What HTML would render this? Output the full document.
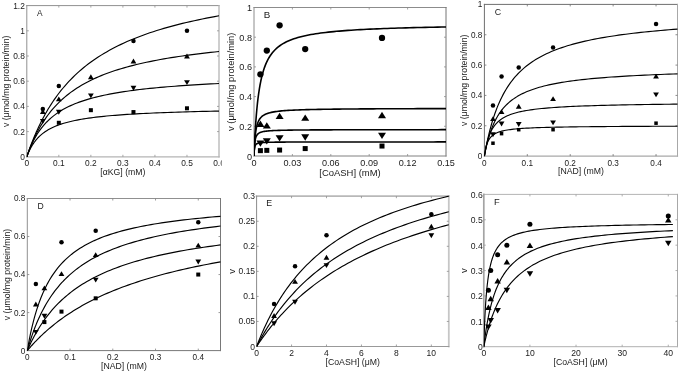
<!DOCTYPE html>
<html><head><meta charset="utf-8"><title>Kinetics</title>
<style>
html,body{margin:0;padding:0;background:#fff;}
body{width:685px;height:374px;overflow:hidden;position:relative;font-family:"Liberation Sans",sans-serif;}
</style></head><body>
<svg width="685" height="374" viewBox="0 0 685 374" style="position:absolute;left:0;top:0;will-change:transform">
<clipPath id="tcA"><rect x="0" y="0" width="221.8" height="190"/></clipPath>
<g font-family='"Liberation Sans", sans-serif' font-size="8.4" fill="#1a1a1a" clip-path="url(#tcA)">
<clipPath id="cp0"><rect x="26.8" y="4.6" width="192.79999999999998" height="152.70000000000002"/></clipPath>
<line x1="26.80" y1="5.60" x2="219.00" y2="5.60" stroke="#909090" stroke-width="1" stroke-linecap="square"/>
<line x1="219.00" y1="5.60" x2="219.00" y2="156.80" stroke="#b4b4b4" stroke-width="1.3" stroke-linecap="square"/>
<line x1="26.80" y1="156.80" x2="219.00" y2="156.80" stroke="#b4b4b4" stroke-width="1.3" stroke-linecap="square"/>
<line x1="26.80" y1="5.60" x2="26.80" y2="156.80" stroke="#909090" stroke-width="1" stroke-linecap="square"/>
<text x="26.80" y="166.30" text-anchor="middle">0</text>
<text x="58.83" y="166.30" text-anchor="middle">0.1</text>
<text x="90.87" y="166.30" text-anchor="middle">0.2</text>
<text x="122.90" y="166.30" text-anchor="middle">0.3</text>
<text x="154.93" y="166.30" text-anchor="middle">0.4</text>
<text x="186.97" y="166.30" text-anchor="middle">0.5</text>
<text x="219.00" y="166.30" text-anchor="middle">0.6</text>
<text x="24.80" y="159.81" text-anchor="end">0</text>
<text x="24.80" y="134.61" text-anchor="end">0.2</text>
<text x="24.80" y="109.41" text-anchor="end">0.4</text>
<text x="24.80" y="84.21" text-anchor="end">0.6</text>
<text x="24.80" y="59.01" text-anchor="end">0.8</text>
<text x="24.80" y="33.81" text-anchor="end">1</text>
<text x="24.80" y="8.61" text-anchor="end">1.2</text>
<path d="M58.83 156.80v-2.0M58.83 5.60v2.0M90.87 156.80v-2.0M90.87 5.60v2.0M122.90 156.80v-2.0M122.90 5.60v2.0M154.93 156.80v-2.0M154.93 5.60v2.0M186.97 156.80v-2.0M186.97 5.60v2.0M26.80 131.60h2.0M219.00 131.60h-2.0M26.80 106.40h2.0M219.00 106.40h-2.0M26.80 81.20h2.0M219.00 81.20h-2.0M26.80 56.00h2.0M219.00 56.00h-2.0M26.80 30.80h2.0M219.00 30.80h-2.0" stroke="#909090" stroke-width="0.8" fill="none"/>
<text x="122.90" y="174.80" text-anchor="middle" font-size="8.7">[αKG] (mM)</text>
<text transform="translate(9.40,81.20) rotate(-90)" text-anchor="middle" font-size="8.7">v (μmol/mg protein/min)</text>
<text x="37.10" y="16.00" font-size="8.3">A</text>
<g clip-path="url(#cp0)" fill="none" stroke="#000" stroke-width="1.15" stroke-linejoin="round">
<polyline points="26.80,156.80 26.82,156.73 26.89,156.52 27.01,156.16 27.18,155.67 27.39,155.04 27.65,154.27 27.96,153.37 28.32,152.35 28.72,151.20 29.17,149.94 29.67,148.56 30.22,147.07 30.81,145.49 31.45,143.81 32.14,142.04 32.87,140.18 33.66,138.25 34.49,136.26 35.37,134.19 36.29,132.08 37.26,129.91 38.28,127.69 39.35,125.44 40.47,123.16 41.63,120.85 42.84,118.52 44.10,116.17 45.40,113.81 46.76,111.44 48.16,109.07 49.60,106.71 51.10,104.35 52.64,102.00 54.23,99.66 55.87,97.33 57.55,95.03 59.28,92.74 61.06,90.48 62.89,88.24 64.77,86.03 66.69,83.85 68.66,81.70 70.67,79.58 72.74,77.49 74.85,75.43 77.01,73.41 79.22,71.42 81.47,69.47 83.77,67.55 86.12,65.67 88.52,63.82 90.96,62.01 93.45,60.23 95.99,58.49 98.58,56.79 101.21,55.12 103.89,53.48 106.62,51.88 109.40,50.31 112.22,48.78 115.09,47.28 118.01,45.81 120.98,44.38 123.99,42.97 127.05,41.60 130.16,40.26 133.32,38.95 136.52,37.67 139.77,36.42 143.07,35.19 146.41,34.00 149.81,32.83 153.25,31.68 156.74,30.57 160.27,29.48 163.86,28.41 167.49,27.37 171.16,26.35 174.89,25.35 178.66,24.38 182.48,23.43 186.35,22.50 190.26,21.60 194.23,20.71 198.24,19.84 202.30,18.99 206.40,18.16 210.55,17.35 214.75,16.56 219.00,15.79"/>
<polyline points="26.80,156.80 26.82,156.73 26.89,156.52 27.01,156.18 27.18,155.70 27.39,155.09 27.65,154.36 27.96,153.50 28.32,152.52 28.72,151.43 29.17,150.23 29.67,148.94 30.22,147.55 30.81,146.07 31.45,144.52 32.14,142.90 32.87,141.22 33.66,139.48 34.49,137.69 35.37,135.86 36.29,133.99 37.26,132.10 38.28,130.19 39.35,128.26 40.47,126.32 41.63,124.37 42.84,122.43 44.10,120.49 45.40,118.55 46.76,116.64 48.16,114.73 49.60,112.85 51.10,110.98 52.64,109.14 54.23,107.33 55.87,105.55 57.55,103.79 59.28,102.06 61.06,100.37 62.89,98.71 64.77,97.08 66.69,95.49 68.66,93.93 70.67,92.40 72.74,90.91 74.85,89.46 77.01,88.04 79.22,86.65 81.47,85.30 83.77,83.98 86.12,82.69 88.52,81.44 90.96,80.22 93.45,79.03 95.99,77.87 98.58,76.74 101.21,75.64 103.89,74.57 106.62,73.53 109.40,72.52 112.22,71.53 115.09,70.57 118.01,69.64 120.98,68.73 123.99,67.84 127.05,66.98 130.16,66.14 133.32,65.33 136.52,64.53 139.77,63.76 143.07,63.01 146.41,62.28 149.81,61.57 153.25,60.88 156.74,60.20 160.27,59.54 163.86,58.90 167.49,58.28 171.16,57.68 174.89,57.08 178.66,56.51 182.48,55.95 186.35,55.40 190.26,54.87 194.23,54.35 198.24,53.85 202.30,53.35 206.40,52.87 210.55,52.41 214.75,51.95 219.00,51.50"/>
<polyline points="26.80,156.80 26.82,156.73 26.89,156.52 27.01,156.17 27.18,155.68 27.39,155.07 27.65,154.33 27.96,153.47 28.32,152.50 28.72,151.44 29.17,150.28 29.67,149.03 30.22,147.71 30.81,146.33 31.45,144.90 32.14,143.42 32.87,141.90 33.66,140.36 34.49,138.79 35.37,137.21 36.29,135.63 37.26,134.05 38.28,132.47 39.35,130.91 40.47,129.36 41.63,127.83 42.84,126.32 44.10,124.84 45.40,123.39 46.76,121.97 48.16,120.58 49.60,119.22 51.10,117.89 52.64,116.61 54.23,115.35 55.87,114.13 57.55,112.95 59.28,111.80 61.06,110.69 62.89,109.61 64.77,108.57 66.69,107.56 68.66,106.58 70.67,105.63 72.74,104.72 74.85,103.83 77.01,102.98 79.22,102.15 81.47,101.35 83.77,100.58 86.12,99.83 88.52,99.11 90.96,98.41 93.45,97.74 95.99,97.09 98.58,96.46 101.21,95.85 103.89,95.26 106.62,94.69 109.40,94.14 112.22,93.61 115.09,93.10 118.01,92.60 120.98,92.12 123.99,91.65 127.05,91.20 130.16,90.77 133.32,90.35 136.52,89.94 139.77,89.54 143.07,89.16 146.41,88.79 149.81,88.43 153.25,88.08 156.74,87.74 160.27,87.41 163.86,87.09 167.49,86.79 171.16,86.49 174.89,86.20 178.66,85.92 182.48,85.64 186.35,85.38 190.26,85.12 194.23,84.87 198.24,84.63 202.30,84.39 206.40,84.16 210.55,83.94 214.75,83.72 219.00,83.51"/>
<polyline points="26.80,156.80 26.82,156.74 26.89,156.54 27.01,156.22 27.18,155.78 27.39,155.23 27.65,154.57 27.96,153.81 28.32,152.96 28.72,152.04 29.17,151.05 29.67,150.00 30.22,148.92 30.81,147.79 31.45,146.65 32.14,145.48 32.87,144.31 33.66,143.14 34.49,141.98 35.37,140.83 36.29,139.69 37.26,138.57 38.28,137.48 39.35,136.42 40.47,135.38 41.63,134.37 42.84,133.40 44.10,132.46 45.40,131.55 46.76,130.67 48.16,129.82 49.60,129.01 51.10,128.23 52.64,127.47 54.23,126.75 55.87,126.06 57.55,125.39 59.28,124.76 61.06,124.15 62.89,123.56 64.77,123.00 66.69,122.46 68.66,121.95 70.67,121.45 72.74,120.98 74.85,120.52 77.01,120.09 79.22,119.67 81.47,119.27 83.77,118.89 86.12,118.52 88.52,118.17 90.96,117.83 93.45,117.50 95.99,117.19 98.58,116.89 101.21,116.60 103.89,116.32 106.62,116.05 109.40,115.80 112.22,115.55 115.09,115.31 118.01,115.08 120.98,114.86 123.99,114.65 127.05,114.44 130.16,114.25 133.32,114.06 136.52,113.87 139.77,113.69 143.07,113.52 146.41,113.36 149.81,113.20 153.25,113.04 156.74,112.90 160.27,112.75 163.86,112.61 167.49,112.48 171.16,112.35 174.89,112.22 178.66,112.10 182.48,111.98 186.35,111.87 190.26,111.76 194.23,111.65 198.24,111.54 202.30,111.44 206.40,111.34 210.55,111.25 214.75,111.16 219.00,111.07"/>
</g>
<g fill="#000" stroke="none">
<circle cx="42.82" cy="109.05" r="2.25"/>
<circle cx="58.83" cy="85.99" r="2.25"/>
<circle cx="133.47" cy="41.01" r="2.25"/>
<circle cx="186.97" cy="30.80" r="2.25"/>
<path d="M42.82 108.99L45.72 113.89L39.92 113.89Z"/>
<path d="M58.83 96.39L61.73 101.29L55.93 101.29Z"/>
<path d="M90.87 74.34L93.77 79.24L87.97 79.24Z"/>
<path d="M133.47 58.59L136.37 63.49L130.57 63.49Z"/>
<path d="M186.97 53.55L189.87 58.45L184.07 58.45Z"/>
<path d="M42.82 123.89L45.72 118.99L39.92 118.99Z"/>
<path d="M58.83 114.69L61.73 109.79L55.93 109.79Z"/>
<path d="M90.87 98.31L93.77 93.41L87.97 93.41Z"/>
<path d="M133.47 90.75L136.37 85.85L130.57 85.85Z"/>
<path d="M186.97 85.08L189.87 80.18L184.07 80.18Z"/>
<rect x="56.83" y="120.78" width="4.00" height="4.00"/>
<rect x="88.87" y="108.18" width="4.00" height="4.00"/>
<rect x="131.47" y="110.07" width="4.00" height="4.00"/>
<rect x="184.97" y="106.29" width="4.00" height="4.00"/>
</g>
</g>
<g font-family='"Liberation Sans", sans-serif' font-size="9.1" fill="#1a1a1a">
<clipPath id="cp1"><rect x="254.0" y="6.5" width="192.6" height="150.0"/></clipPath>
<line x1="254.00" y1="7.50" x2="446.00" y2="7.50" stroke="#8c8c8c" stroke-width="1" stroke-linecap="square"/>
<line x1="446.00" y1="7.50" x2="446.00" y2="156.00" stroke="#747474" stroke-width="1" stroke-linecap="square"/>
<line x1="254.00" y1="156.00" x2="446.00" y2="156.00" stroke="#808080" stroke-width="1" stroke-linecap="square"/>
<line x1="254.00" y1="7.50" x2="254.00" y2="156.00" stroke="#8c8c8c" stroke-width="1" stroke-linecap="square"/>
<text x="254.00" y="165.80" text-anchor="middle">0</text>
<text x="292.40" y="165.80" text-anchor="middle">0.03</text>
<text x="330.80" y="165.80" text-anchor="middle">0.06</text>
<text x="369.20" y="165.80" text-anchor="middle">0.09</text>
<text x="407.60" y="165.80" text-anchor="middle">0.12</text>
<text x="446.00" y="165.80" text-anchor="middle">0.15</text>
<text x="252.00" y="159.56" text-anchor="end">0</text>
<text x="252.00" y="129.86" text-anchor="end">0.2</text>
<text x="252.00" y="100.16" text-anchor="end">0.4</text>
<text x="252.00" y="70.46" text-anchor="end">0.6</text>
<text x="252.00" y="40.76" text-anchor="end">0.8</text>
<text x="252.00" y="11.06" text-anchor="end">1</text>
<path d="M292.40 156.00v-2.0M292.40 7.50v2.0M330.80 156.00v-2.0M330.80 7.50v2.0M369.20 156.00v-2.0M369.20 7.50v2.0M407.60 156.00v-2.0M407.60 7.50v2.0M254.00 126.30h2.0M446.00 126.30h-2.0M254.00 96.60h2.0M446.00 96.60h-2.0M254.00 66.90h2.0M446.00 66.90h-2.0M254.00 37.20h2.0M446.00 37.20h-2.0" stroke="#8c8c8c" stroke-width="0.8" fill="none"/>
<text x="350.00" y="176.00" text-anchor="middle" font-size="9.45">[CoASH] (mM)</text>
<text transform="translate(234.20,81.75) rotate(-90)" text-anchor="middle" font-size="9.35">v (μmol/mg protein/min)</text>
<text x="263.70" y="17.60" font-size="9.8">B</text>
<g clip-path="url(#cp1)" fill="none" stroke="#000" stroke-width="1.6" stroke-linejoin="round">
<polyline points="254.00,156.00 254.02,155.40 254.09,153.64 254.21,150.80 254.38,147.02 254.59,142.49 254.85,137.38 255.16,131.88 255.52,126.16 255.92,120.36 256.37,114.61 256.87,109.00 257.41,103.60 258.01,98.45 258.65,93.59 259.33,89.02 260.07,84.75 260.85,80.78 261.68,77.09 262.56,73.68 263.48,70.52 264.45,67.60 265.47,64.90 266.54,62.41 267.65,60.11 268.81,57.99 270.02,56.02 271.28,54.20 272.58,52.52 273.93,50.95 275.33,49.50 276.78,48.16 278.27,46.91 279.81,45.74 281.40,44.66 283.04,43.64 284.72,42.70 286.45,41.81 288.23,40.98 290.05,40.21 291.93,39.48 293.85,38.80 295.81,38.15 297.83,37.55 299.89,36.98 302.00,36.44 304.16,35.94 306.36,35.46 308.61,35.00 310.91,34.58 313.26,34.17 315.65,33.79 318.09,33.42 320.58,33.08 323.12,32.75 325.70,32.43 328.33,32.14 331.01,31.85 333.74,31.58 336.51,31.32 339.33,31.08 342.20,30.84 345.12,30.62 348.08,30.41 351.09,30.20 354.15,30.00 357.25,29.82 360.41,29.64 363.61,29.46 366.85,29.30 370.15,29.14 373.49,28.99 376.88,28.84 380.32,28.70 383.80,28.56 387.33,28.43 390.91,28.30 394.54,28.18 398.21,28.07 401.93,27.95 405.70,27.85 409.52,27.74 413.38,27.64 417.29,27.54 421.25,27.45 425.26,27.36 429.31,27.27 433.41,27.18 437.56,27.10 441.76,27.02 446.00,26.94"/>
<polyline points="254.00,156.00 254.02,155.33 254.09,153.42 254.21,150.57 254.38,147.12 254.59,143.44 254.85,139.79 255.16,136.34 255.52,133.20 255.92,130.38 256.37,127.91 256.87,125.74 257.41,123.85 258.01,122.22 258.65,120.79 259.33,119.55 260.07,118.47 260.85,117.53 261.68,116.70 262.56,115.97 263.48,115.32 264.45,114.75 265.47,114.24 266.54,113.79 267.65,113.38 268.81,113.01 270.02,112.68 271.28,112.38 272.58,112.11 273.93,111.87 275.33,111.64 276.78,111.44 278.27,111.25 279.81,111.08 281.40,110.92 283.04,110.77 284.72,110.64 286.45,110.52 288.23,110.40 290.05,110.29 291.93,110.19 293.85,110.10 295.81,110.01 297.83,109.93 299.89,109.86 302.00,109.79 304.16,109.72 306.36,109.66 308.61,109.60 310.91,109.54 313.26,109.49 315.65,109.44 318.09,109.39 320.58,109.35 323.12,109.31 325.70,109.27 328.33,109.23 331.01,109.19 333.74,109.16 336.51,109.13 339.33,109.10 342.20,109.07 345.12,109.04 348.08,109.01 351.09,108.99 354.15,108.96 357.25,108.94 360.41,108.92 363.61,108.90 366.85,108.88 370.15,108.86 373.49,108.84 376.88,108.82 380.32,108.80 383.80,108.79 387.33,108.77 390.91,108.76 394.54,108.74 398.21,108.73 401.93,108.71 405.70,108.70 409.52,108.69 413.38,108.68 417.29,108.67 421.25,108.65 425.26,108.64 429.31,108.63 433.41,108.62 437.56,108.61 441.76,108.60 446.00,108.59"/>
<polyline points="254.00,156.00 254.02,155.21 254.09,153.10 254.21,150.25 254.38,147.26 254.59,144.49 254.85,142.09 255.16,140.09 255.52,138.45 255.92,137.12 256.37,136.04 256.87,135.15 257.41,134.42 258.01,133.82 258.65,133.32 259.33,132.89 260.07,132.54 260.85,132.23 261.68,131.97 262.56,131.74 263.48,131.55 264.45,131.38 265.47,131.23 266.54,131.09 267.65,130.97 268.81,130.87 270.02,130.78 271.28,130.69 272.58,130.62 273.93,130.55 275.33,130.49 276.78,130.43 278.27,130.38 279.81,130.33 281.40,130.29 283.04,130.25 284.72,130.21 286.45,130.18 288.23,130.15 290.05,130.12 291.93,130.09 293.85,130.07 295.81,130.04 297.83,130.02 299.89,130.00 302.00,129.98 304.16,129.97 306.36,129.95 308.61,129.93 310.91,129.92 313.26,129.91 315.65,129.89 318.09,129.88 320.58,129.87 323.12,129.86 325.70,129.85 328.33,129.84 331.01,129.83 333.74,129.82 336.51,129.81 339.33,129.80 342.20,129.80 345.12,129.79 348.08,129.78 351.09,129.77 354.15,129.77 357.25,129.76 360.41,129.76 363.61,129.75 366.85,129.75 370.15,129.74 373.49,129.74 376.88,129.73 380.32,129.73 383.80,129.72 387.33,129.72 390.91,129.71 394.54,129.71 398.21,129.71 401.93,129.70 405.70,129.70 409.52,129.70 413.38,129.69 417.29,129.69 421.25,129.69 425.26,129.69 429.31,129.68 433.41,129.68 437.56,129.68 441.76,129.67 446.00,129.67"/>
<polyline points="254.00,156.00 254.02,155.25 254.09,153.41 254.21,151.27 254.38,149.33 254.59,147.76 254.85,146.56 255.16,145.65 255.52,144.97 255.92,144.44 256.37,144.03 256.87,143.70 257.41,143.45 258.01,143.24 258.65,143.07 259.33,142.93 260.07,142.81 260.85,142.71 261.68,142.63 262.56,142.56 263.48,142.49 264.45,142.44 265.47,142.39 266.54,142.35 267.65,142.32 268.81,142.28 270.02,142.25 271.28,142.23 272.58,142.21 273.93,142.19 275.33,142.17 276.78,142.15 278.27,142.13 279.81,142.12 281.40,142.11 283.04,142.09 284.72,142.08 286.45,142.07 288.23,142.06 290.05,142.06 291.93,142.05 293.85,142.04 295.81,142.03 297.83,142.03 299.89,142.02 302.00,142.02 304.16,142.01 306.36,142.01 308.61,142.00 310.91,142.00 313.26,141.99 315.65,141.99 318.09,141.98 320.58,141.98 323.12,141.98 325.70,141.98 328.33,141.97 331.01,141.97 333.74,141.97 336.51,141.96 339.33,141.96 342.20,141.96 345.12,141.96 348.08,141.96 351.09,141.95 354.15,141.95 357.25,141.95 360.41,141.95 363.61,141.95 366.85,141.95 370.15,141.94 373.49,141.94 376.88,141.94 380.32,141.94 383.80,141.94 387.33,141.94 390.91,141.94 394.54,141.93 398.21,141.93 401.93,141.93 405.70,141.93 409.52,141.93 413.38,141.93 417.29,141.93 421.25,141.93 425.26,141.93 429.31,141.93 433.41,141.93 437.56,141.92 441.76,141.92 446.00,141.92"/>
</g>
<g fill="#000" stroke="none">
<circle cx="260.40" cy="74.32" r="3.15"/>
<circle cx="266.80" cy="50.57" r="3.15"/>
<circle cx="279.60" cy="25.32" r="3.15"/>
<circle cx="305.20" cy="49.08" r="3.15"/>
<circle cx="382.00" cy="37.94" r="3.15"/>
<path d="M260.40 120.50L264.40 126.90L256.40 126.90Z"/>
<path d="M266.80 122.21L270.80 128.61L262.80 128.61Z"/>
<path d="M279.60 112.70L283.60 119.11L275.60 119.11Z"/>
<path d="M305.20 114.41L309.20 120.81L301.20 120.81Z"/>
<path d="M382.00 111.81L386.00 118.21L378.00 118.21Z"/>
<path d="M260.40 146.78L264.40 140.38L256.40 140.38Z"/>
<path d="M266.80 144.56L270.80 138.16L262.80 138.16Z"/>
<path d="M279.60 141.59L283.60 135.19L275.60 135.19Z"/>
<path d="M305.20 140.69L309.20 134.30L301.20 134.30Z"/>
<path d="M382.00 139.06L386.00 132.66L378.00 132.66Z"/>
<rect x="257.90" y="148.15" width="5.00" height="5.00"/>
<rect x="264.30" y="147.86" width="5.00" height="5.00"/>
<rect x="277.10" y="147.56" width="5.00" height="5.00"/>
<rect x="302.70" y="146.07" width="5.00" height="5.00"/>
<rect x="379.50" y="143.55" width="5.00" height="5.00"/>
</g>
</g>
<g font-family='"Liberation Sans", sans-serif' font-size="8.2" fill="#1a1a1a">
<clipPath id="cp2"><rect x="484.4" y="3.4000000000000004" width="193.70000000000002" height="153.2"/></clipPath>
<line x1="484.40" y1="4.40" x2="677.50" y2="4.40" stroke="#6e6e6e" stroke-width="1" stroke-linecap="square"/>
<line x1="677.50" y1="4.40" x2="677.50" y2="156.10" stroke="#a8a8a8" stroke-width="1" stroke-linecap="square"/>
<line x1="484.40" y1="156.10" x2="677.50" y2="156.10" stroke="#a8a8a8" stroke-width="1.2" stroke-linecap="square"/>
<line x1="484.40" y1="4.40" x2="484.40" y2="156.10" stroke="#6e6e6e" stroke-width="1" stroke-linecap="square"/>
<text x="484.40" y="165.60" text-anchor="middle">0</text>
<text x="527.31" y="165.60" text-anchor="middle">0.1</text>
<text x="570.22" y="165.60" text-anchor="middle">0.2</text>
<text x="613.13" y="165.60" text-anchor="middle">0.3</text>
<text x="656.04" y="165.60" text-anchor="middle">0.4</text>
<text x="482.40" y="159.04" text-anchor="end">0</text>
<text x="482.40" y="128.70" text-anchor="end">0.2</text>
<text x="482.40" y="98.36" text-anchor="end">0.4</text>
<text x="482.40" y="68.02" text-anchor="end">0.6</text>
<text x="482.40" y="37.68" text-anchor="end">0.8</text>
<text x="482.40" y="7.34" text-anchor="end">1</text>
<path d="M527.31 156.10v-2.0M527.31 4.40v2.0M570.22 156.10v-2.0M570.22 4.40v2.0M613.13 156.10v-2.0M613.13 4.40v2.0M656.04 156.10v-2.0M656.04 4.40v2.0M484.40 125.76h2.0M677.50 125.76h-2.0M484.40 95.42h2.0M677.50 95.42h-2.0M484.40 65.08h2.0M677.50 65.08h-2.0M484.40 34.74h2.0M677.50 34.74h-2.0" stroke="#6e6e6e" stroke-width="0.8" fill="none"/>
<text x="580.95" y="174.10" text-anchor="middle" font-size="8.7">[NAD] (mM)</text>
<text transform="translate(467.00,80.25) rotate(-90)" text-anchor="middle" font-size="8.7">v (μmol/mg protein/min)</text>
<text x="494.70" y="14.80" font-size="8.8">C</text>
<g clip-path="url(#cp2)" fill="none" stroke="#000" stroke-width="1.15" stroke-linejoin="round">
<polyline points="484.40,156.10 484.42,155.96 484.50,155.55 484.61,154.87 484.78,153.94 485.00,152.75 485.26,151.32 485.57,149.67 485.93,147.82 486.33,145.78 486.78,143.57 487.28,141.21 487.83,138.72 488.43,136.13 489.07,133.44 489.76,130.68 490.50,127.87 491.29,125.02 492.12,122.15 493.01,119.27 493.94,116.39 494.91,113.53 495.94,110.69 497.01,107.89 498.13,105.13 499.30,102.42 500.52,99.76 501.78,97.16 503.09,94.62 504.45,92.14 505.86,89.73 507.31,87.39 508.81,85.11 510.36,82.91 511.96,80.77 513.60,78.70 515.30,76.70 517.04,74.77 518.82,72.90 520.66,71.09 522.54,69.35 524.47,67.67 526.45,66.04 528.48,64.48 530.55,62.97 532.67,61.51 534.84,60.11 537.06,58.75 539.33,57.45 541.64,56.19 544.00,54.97 546.41,53.80 548.86,52.68 551.37,51.59 553.92,50.54 556.51,49.53 559.16,48.55 561.85,47.61 564.60,46.70 567.39,45.82 570.22,44.97 573.11,44.15 576.04,43.36 579.02,42.60 582.05,41.86 585.12,41.15 588.24,40.46 591.42,39.79 594.63,39.15 597.90,38.53 601.21,37.92 604.57,37.34 607.98,36.77 611.44,36.23 614.95,35.70 618.50,35.19 622.10,34.69 625.74,34.21 629.44,33.74 633.18,33.29 636.97,32.85 640.81,32.42 644.70,32.01 648.63,31.61 652.61,31.22 656.64,30.84 660.72,30.48 664.84,30.12 669.01,29.77 673.23,29.44 677.50,29.11"/>
<polyline points="484.40,156.10 484.42,155.97 484.50,155.58 484.61,154.94 484.78,154.06 485.00,152.95 485.26,151.64 485.57,150.14 485.93,148.47 486.33,146.66 486.78,144.72 487.28,142.69 487.83,140.59 488.43,138.43 489.07,136.23 489.76,134.02 490.50,131.81 491.29,129.61 492.12,127.43 493.01,125.29 493.94,123.19 494.91,121.13 495.94,119.14 497.01,117.20 498.13,115.32 499.30,113.51 500.52,111.76 501.78,110.08 503.09,108.46 504.45,106.91 505.86,105.42 507.31,103.99 508.81,102.62 510.36,101.31 511.96,100.06 513.60,98.86 515.30,97.71 517.04,96.62 518.82,95.57 520.66,94.57 522.54,93.61 524.47,92.70 526.45,91.82 528.48,90.99 530.55,90.19 532.67,89.42 534.84,88.69 537.06,87.99 539.33,87.32 541.64,86.68 544.00,86.06 546.41,85.47 548.86,84.91 551.37,84.37 553.92,83.85 556.51,83.35 559.16,82.87 561.85,82.41 564.60,81.97 567.39,81.55 570.22,81.14 573.11,80.75 576.04,80.37 579.02,80.01 582.05,79.66 585.12,79.33 588.24,79.01 591.42,78.69 594.63,78.39 597.90,78.11 601.21,77.83 604.57,77.56 607.98,77.30 611.44,77.05 614.95,76.81 618.50,76.57 622.10,76.35 625.74,76.13 629.44,75.92 633.18,75.71 636.97,75.51 640.81,75.32 644.70,75.14 648.63,74.96 652.61,74.78 656.64,74.61 660.72,74.45 664.84,74.29 669.01,74.14 673.23,73.99 677.50,73.85"/>
<polyline points="484.40,156.10 484.42,155.94 484.50,155.45 484.61,154.66 484.78,153.59 485.00,152.29 485.26,150.77 485.57,149.10 485.93,147.30 486.33,145.43 486.78,143.51 487.28,141.57 487.83,139.65 488.43,137.76 489.07,135.93 489.76,134.15 490.50,132.45 491.29,130.83 492.12,129.28 493.01,127.82 493.94,126.44 494.91,125.14 495.94,123.92 497.01,122.77 498.13,121.69 499.30,120.68 500.52,119.74 501.78,118.85 503.09,118.02 504.45,117.24 505.86,116.51 507.31,115.82 508.81,115.18 510.36,114.58 511.96,114.01 513.60,113.48 515.30,112.98 517.04,112.51 518.82,112.06 520.66,111.65 522.54,111.25 524.47,110.88 526.45,110.53 528.48,110.20 530.55,109.88 532.67,109.59 534.84,109.30 537.06,109.04 539.33,108.78 541.64,108.54 544.00,108.32 546.41,108.10 548.86,107.89 551.37,107.70 553.92,107.51 556.51,107.33 559.16,107.16 561.85,107.00 564.60,106.84 567.39,106.69 570.22,106.55 573.11,106.42 576.04,106.29 579.02,106.16 582.05,106.04 585.12,105.93 588.24,105.82 591.42,105.72 594.63,105.62 597.90,105.52 601.21,105.43 604.57,105.34 607.98,105.25 611.44,105.17 614.95,105.09 618.50,105.01 622.10,104.94 625.74,104.87 629.44,104.80 633.18,104.73 636.97,104.67 640.81,104.60 644.70,104.54 648.63,104.49 652.61,104.43 656.64,104.38 660.72,104.32 664.84,104.27 669.01,104.23 673.23,104.18 677.50,104.13"/>
<polyline points="484.40,156.10 484.42,155.91 484.50,155.37 484.61,154.50 484.78,153.36 485.00,152.02 485.26,150.56 485.57,149.02 485.93,147.47 486.33,145.94 486.78,144.46 487.28,143.06 487.83,141.75 488.43,140.53 489.07,139.41 489.76,138.37 490.50,137.43 491.29,136.56 492.12,135.77 493.01,135.05 493.94,134.40 494.91,133.80 495.94,133.25 497.01,132.76 498.13,132.30 499.30,131.88 500.52,131.50 501.78,131.15 503.09,130.83 504.45,130.53 505.86,130.26 507.31,130.01 508.81,129.77 510.36,129.56 511.96,129.36 513.60,129.17 515.30,129.00 517.04,128.83 518.82,128.68 520.66,128.54 522.54,128.41 524.47,128.29 526.45,128.17 528.48,128.06 530.55,127.96 532.67,127.87 534.84,127.78 537.06,127.69 539.33,127.61 541.64,127.54 544.00,127.46 546.41,127.40 548.86,127.33 551.37,127.27 553.92,127.21 556.51,127.16 559.16,127.11 561.85,127.06 564.60,127.01 567.39,126.96 570.22,126.92 573.11,126.88 576.04,126.84 579.02,126.80 582.05,126.77 585.12,126.73 588.24,126.70 591.42,126.67 594.63,126.64 597.90,126.61 601.21,126.58 604.57,126.56 607.98,126.53 611.44,126.51 614.95,126.48 618.50,126.46 622.10,126.44 625.74,126.42 629.44,126.40 633.18,126.38 636.97,126.36 640.81,126.34 644.70,126.33 648.63,126.31 652.61,126.29 656.64,126.28 660.72,126.26 664.84,126.25 669.01,126.23 673.23,126.22 677.50,126.21"/>
</g>
<g fill="#000" stroke="none">
<circle cx="492.98" cy="105.58" r="2.25"/>
<circle cx="501.56" cy="76.61" r="2.25"/>
<circle cx="518.73" cy="67.58" r="2.25"/>
<circle cx="553.06" cy="47.56" r="2.25"/>
<circle cx="656.04" cy="24.12" r="2.25"/>
<path d="M492.98 116.18L495.88 121.08L490.08 121.08Z"/>
<path d="M501.56 109.20L504.46 114.10L498.66 114.10Z"/>
<path d="M518.73 103.74L521.63 108.64L515.83 108.64Z"/>
<path d="M553.06 96.16L555.96 101.06L550.16 101.06Z"/>
<path d="M656.04 73.70L658.94 78.60L653.14 78.60Z"/>
<path d="M492.98 137.20L495.88 132.30L490.08 132.30Z"/>
<path d="M501.56 126.43L504.46 121.53L498.66 121.53Z"/>
<path d="M518.73 126.89L521.63 121.99L515.83 121.99Z"/>
<path d="M553.06 125.37L555.96 120.47L550.16 120.47Z"/>
<path d="M656.04 97.37L658.94 92.47L653.14 92.47Z"/>
<rect x="491.23" y="141.46" width="3.50" height="3.50"/>
<rect x="499.81" y="131.90" width="3.50" height="3.50"/>
<rect x="516.98" y="127.95" width="3.50" height="3.50"/>
<rect x="551.31" y="127.95" width="3.50" height="3.50"/>
<rect x="654.29" y="121.43" width="3.50" height="3.50"/>
</g>
</g>
<g font-family='"Liberation Sans", sans-serif' font-size="8.2" fill="#1a1a1a">
<clipPath id="cp3"><rect x="27.3" y="197.5" width="193.79999999999998" height="153.60000000000002"/></clipPath>
<line x1="27.30" y1="198.50" x2="220.50" y2="198.50" stroke="#909090" stroke-width="1" stroke-linecap="square"/>
<line x1="220.50" y1="198.50" x2="220.50" y2="350.60" stroke="#787878" stroke-width="1" stroke-linecap="square"/>
<line x1="27.30" y1="350.60" x2="220.50" y2="350.60" stroke="#787878" stroke-width="1" stroke-linecap="square"/>
<line x1="27.30" y1="198.50" x2="27.30" y2="350.60" stroke="#909090" stroke-width="1" stroke-linecap="square"/>
<text x="27.30" y="360.10" text-anchor="middle">0</text>
<text x="70.04" y="360.10" text-anchor="middle">0.1</text>
<text x="112.79" y="360.10" text-anchor="middle">0.2</text>
<text x="155.53" y="360.10" text-anchor="middle">0.3</text>
<text x="198.27" y="360.10" text-anchor="middle">0.4</text>
<text x="25.30" y="353.54" text-anchor="end">0</text>
<text x="25.30" y="315.51" text-anchor="end">0.2</text>
<text x="25.30" y="277.49" text-anchor="end">0.4</text>
<text x="25.30" y="239.46" text-anchor="end">0.6</text>
<text x="25.30" y="201.44" text-anchor="end">0.8</text>
<path d="M70.04 350.60v-2.0M70.04 198.50v2.0M112.79 350.60v-2.0M112.79 198.50v2.0M155.53 350.60v-2.0M155.53 198.50v2.0M198.27 350.60v-2.0M198.27 198.50v2.0M27.30 312.58h2.0M220.50 312.58h-2.0M27.30 274.55h2.0M220.50 274.55h-2.0M27.30 236.53h2.0M220.50 236.53h-2.0" stroke="#808080" stroke-width="0.8" fill="none"/>
<text x="123.90" y="368.60" text-anchor="middle" font-size="8.7">[NAD] (mM)</text>
<text transform="translate(9.90,274.55) rotate(-90)" text-anchor="middle" font-size="8.7">v (μmol/mg protein/min)</text>
<text x="37.60" y="208.90" font-size="8.6">D</text>
<g clip-path="url(#cp3)" fill="none" stroke="#000" stroke-width="1.15" stroke-linejoin="round">
<polyline points="27.30,350.60 27.32,350.46 27.40,350.04 27.51,349.34 27.68,348.37 27.90,347.14 28.16,345.67 28.47,343.97 28.83,342.06 29.23,339.94 29.69,337.66 30.19,335.21 30.73,332.64 31.33,329.94 31.97,327.15 32.67,324.28 33.41,321.35 34.19,318.38 35.03,315.38 35.91,312.37 36.84,309.36 37.82,306.36 38.84,303.39 39.92,300.44 41.04,297.54 42.21,294.69 43.42,291.89 44.69,289.14 46.00,286.46 47.36,283.85 48.77,281.30 50.22,278.82 51.72,276.41 53.27,274.07 54.87,271.80 56.52,269.60 58.21,267.47 59.95,265.41 61.74,263.42 63.58,261.49 65.46,259.63 67.39,257.84 69.37,256.10 71.40,254.43 73.48,252.81 75.60,251.25 77.77,249.75 79.99,248.30 82.25,246.90 84.57,245.55 86.93,244.24 89.34,242.99 91.80,241.77 94.30,240.60 96.85,239.48 99.45,238.39 102.10,237.33 104.79,236.32 107.54,235.34 110.33,234.39 113.17,233.48 116.05,232.60 118.99,231.75 121.97,230.92 125.00,230.13 128.07,229.36 131.20,228.61 134.37,227.89 137.59,227.20 140.86,226.52 144.17,225.87 147.54,225.24 150.95,224.63 154.41,224.04 157.91,223.46 161.47,222.91 165.07,222.37 168.72,221.85 172.41,221.34 176.16,220.85 179.95,220.38 183.79,219.92 187.68,219.47 191.62,219.03 195.60,218.61 199.63,218.20 203.71,217.81 207.83,217.42 212.01,217.04 216.23,216.68 220.50,216.32"/>
<polyline points="27.30,350.60 27.32,350.52 27.40,350.26 27.51,349.84 27.68,349.25 27.90,348.51 28.16,347.60 28.47,346.55 28.83,345.36 29.23,344.02 29.69,342.56 30.19,340.98 30.73,339.29 31.33,337.49 31.97,335.60 32.67,333.63 33.41,331.59 34.19,329.48 35.03,327.31 35.91,325.10 36.84,322.84 37.82,320.56 38.84,318.26 39.92,315.93 41.04,313.60 42.21,311.27 43.42,308.94 44.69,306.62 46.00,304.31 47.36,302.02 48.77,299.75 50.22,297.51 51.72,295.29 53.27,293.11 54.87,290.96 56.52,288.84 58.21,286.77 59.95,284.73 61.74,282.73 63.58,280.77 65.46,278.86 67.39,276.98 69.37,275.15 71.40,273.36 73.48,271.61 75.60,269.91 77.77,268.25 79.99,266.62 82.25,265.04 84.57,263.51 86.93,262.01 89.34,260.55 91.80,259.12 94.30,257.74 96.85,256.39 99.45,255.08 102.10,253.81 104.79,252.57 107.54,251.36 110.33,250.19 113.17,249.05 116.05,247.94 118.99,246.86 121.97,245.81 125.00,244.79 128.07,243.80 131.20,242.83 134.37,241.90 137.59,240.98 140.86,240.09 144.17,239.23 147.54,238.39 150.95,237.57 154.41,236.78 157.91,236.00 161.47,235.25 165.07,234.52 168.72,233.80 172.41,233.11 176.16,232.43 179.95,231.77 183.79,231.13 187.68,230.51 191.62,229.90 195.60,229.31 199.63,228.73 203.71,228.17 207.83,227.62 212.01,227.08 216.23,226.56 220.50,226.05"/>
<polyline points="27.30,350.60 27.32,350.54 27.40,350.38 27.51,350.11 27.68,349.72 27.90,349.23 28.16,348.64 28.47,347.95 28.83,347.16 29.23,346.27 29.69,345.29 30.19,344.23 30.73,343.09 31.33,341.86 31.97,340.57 32.67,339.21 33.41,337.78 34.19,336.30 35.03,334.77 35.91,333.19 36.84,331.57 37.82,329.91 38.84,328.22 39.92,326.50 41.04,324.76 42.21,323.00 43.42,321.22 44.69,319.44 46.00,317.65 47.36,315.85 48.77,314.06 50.22,312.27 51.72,310.48 53.27,308.71 54.87,306.94 56.52,305.19 58.21,303.45 59.95,301.74 61.74,300.04 63.58,298.36 65.46,296.70 67.39,295.07 69.37,293.46 71.40,291.87 73.48,290.31 75.60,288.78 77.77,287.27 79.99,285.79 82.25,284.34 84.57,282.91 86.93,281.52 89.34,280.15 91.80,278.80 94.30,277.49 96.85,276.20 99.45,274.94 102.10,273.71 104.79,272.50 107.54,271.32 110.33,270.16 113.17,269.03 116.05,267.93 118.99,266.85 121.97,265.80 125.00,264.76 128.07,263.76 131.20,262.77 134.37,261.81 137.59,260.87 140.86,259.96 144.17,259.06 147.54,258.18 150.95,257.33 154.41,256.49 157.91,255.68 161.47,254.88 165.07,254.10 168.72,253.34 172.41,252.60 176.16,251.88 179.95,251.17 183.79,250.48 187.68,249.80 191.62,249.14 195.60,248.49 199.63,247.86 203.71,247.25 207.83,246.65 212.01,246.06 216.23,245.48 220.50,244.92"/>
<polyline points="27.30,350.60 27.32,350.57 27.40,350.49 27.51,350.35 27.68,350.15 27.90,349.90 28.16,349.59 28.47,349.23 28.83,348.81 29.23,348.34 29.69,347.82 30.19,347.25 30.73,346.63 31.33,345.97 31.97,345.25 32.67,344.50 33.41,343.70 34.19,342.85 35.03,341.97 35.91,341.05 36.84,340.09 37.82,339.10 38.84,338.08 39.92,337.02 41.04,335.94 42.21,334.83 43.42,333.69 44.69,332.53 46.00,331.35 47.36,330.15 48.77,328.93 50.22,327.69 51.72,326.44 53.27,325.18 54.87,323.90 56.52,322.62 58.21,321.32 59.95,320.02 61.74,318.71 63.58,317.40 65.46,316.09 67.39,314.78 69.37,313.46 71.40,312.15 73.48,310.83 75.60,309.53 77.77,308.22 79.99,306.92 82.25,305.62 84.57,304.34 86.93,303.06 89.34,301.78 91.80,300.52 94.30,299.26 96.85,298.02 99.45,296.78 102.10,295.56 104.79,294.35 107.54,293.15 110.33,291.96 113.17,290.78 116.05,289.62 118.99,288.47 121.97,287.33 125.00,286.21 128.07,285.10 131.20,284.00 134.37,282.92 137.59,281.85 140.86,280.79 144.17,279.75 147.54,278.73 150.95,277.71 154.41,276.72 157.91,275.73 161.47,274.76 165.07,273.81 168.72,272.87 172.41,271.94 176.16,271.02 179.95,270.12 183.79,269.24 187.68,268.36 191.62,267.51 195.60,266.66 199.63,265.83 203.71,265.01 207.83,264.20 212.01,263.40 216.23,262.62 220.50,261.85"/>
</g>
<g fill="#000" stroke="none">
<circle cx="35.85" cy="284.06" r="2.25"/>
<circle cx="61.49" cy="242.23" r="2.25"/>
<circle cx="95.69" cy="230.82" r="2.25"/>
<circle cx="198.27" cy="222.27" r="2.25"/>
<path d="M35.85 301.57L38.75 306.47L32.95 306.47Z"/>
<path d="M44.40 285.41L47.30 290.31L41.50 290.31Z"/>
<path d="M61.49 271.15L64.39 276.05L58.59 276.05Z"/>
<path d="M95.69 252.14L98.59 257.04L92.79 257.04Z"/>
<path d="M198.27 242.63L201.17 247.53L195.37 247.53Z"/>
<path d="M35.85 334.84L38.75 329.94L32.95 329.94Z"/>
<path d="M44.40 318.68L47.30 313.78L41.50 313.78Z"/>
<path d="M95.69 282.55L98.59 277.65L92.79 277.65Z"/>
<path d="M198.27 264.49L201.17 259.59L195.37 259.59Z"/>
<rect x="42.40" y="320.08" width="4.00" height="4.00"/>
<rect x="59.49" y="309.62" width="4.00" height="4.00"/>
<rect x="93.69" y="296.32" width="4.00" height="4.00"/>
<rect x="196.27" y="272.55" width="4.00" height="4.00"/>
</g>
</g>
<g font-family='"Liberation Sans", sans-serif' font-size="8.5" fill="#1a1a1a">
<clipPath id="cp4"><rect x="256.6" y="195.2" width="192.79999999999998" height="151.8"/></clipPath>
<line x1="256.60" y1="196.20" x2="448.80" y2="196.20" stroke="#b8b8b8" stroke-width="1.8" stroke-linecap="square"/>
<line x1="448.80" y1="196.20" x2="448.80" y2="346.50" stroke="#c6c6c6" stroke-width="1.8" stroke-linecap="square"/>
<line x1="256.60" y1="346.50" x2="448.80" y2="346.50" stroke="#999" stroke-width="1" stroke-linecap="square"/>
<line x1="256.60" y1="196.20" x2="256.60" y2="346.50" stroke="#8c8c8c" stroke-width="1" stroke-linecap="square"/>
<text x="256.60" y="356.00" text-anchor="middle">0</text>
<text x="291.55" y="356.00" text-anchor="middle">2</text>
<text x="326.49" y="356.00" text-anchor="middle">4</text>
<text x="361.44" y="356.00" text-anchor="middle">6</text>
<text x="396.38" y="356.00" text-anchor="middle">8</text>
<text x="431.33" y="356.00" text-anchor="middle">10</text>
<text x="255.10" y="349.54" text-anchor="end">0</text>
<text x="255.10" y="324.49" text-anchor="end">0.05</text>
<text x="255.10" y="299.44" text-anchor="end">0.1</text>
<text x="255.10" y="274.39" text-anchor="end">0.15</text>
<text x="255.10" y="249.34" text-anchor="end">0.2</text>
<text x="255.10" y="224.29" text-anchor="end">0.25</text>
<text x="255.10" y="199.24" text-anchor="end">0.3</text>
<path d="M291.55 346.50v-2.0M291.55 196.20v2.0M326.49 346.50v-2.0M326.49 196.20v2.0M361.44 346.50v-2.0M361.44 196.20v2.0M396.38 346.50v-2.0M396.38 196.20v2.0M431.33 346.50v-2.0M431.33 196.20v2.0M256.60 321.45h2.0M448.80 321.45h-2.0M256.60 296.40h2.0M448.80 296.40h-2.0M256.60 271.35h2.0M448.80 271.35h-2.0M256.60 246.30h2.0M448.80 246.30h-2.0M256.60 221.25h2.0M448.80 221.25h-2.0" stroke="#8c8c8c" stroke-width="0.8" fill="none"/>
<text x="352.70" y="364.50" text-anchor="middle" font-size="8.7">[CoASH] (μM)</text>
<text transform="translate(235.20,271.35) rotate(-90)" text-anchor="middle" font-size="9.4">v</text>
<text x="266.30" y="206.00" font-size="8.8">E</text>
<g clip-path="url(#cp4)" fill="none" stroke="#000" stroke-width="1.15" stroke-linejoin="round">
<polyline points="256.60,346.50 256.62,346.44 256.69,346.25 256.81,345.94 256.98,345.51 257.19,344.96 257.45,344.28 257.76,343.49 258.12,342.59 258.52,341.58 258.97,340.46 259.47,339.23 260.02,337.90 260.61,336.48 261.25,334.96 261.94,333.36 262.67,331.68 263.46,329.91 264.29,328.08 265.17,326.17 266.09,324.21 267.06,322.18 268.08,320.10 269.15,317.98 270.27,315.80 271.43,313.59 272.64,311.35 273.90,309.08 275.20,306.78 276.56,304.45 277.96,302.12 279.40,299.76 280.90,297.40 282.44,295.03 284.03,292.66 285.67,290.29 287.35,287.93 289.08,285.57 290.86,283.21 292.69,280.87 294.57,278.54 296.49,276.23 298.46,273.94 300.47,271.66 302.54,269.41 304.65,267.18 306.81,264.97 309.02,262.79 311.27,260.63 313.57,258.50 315.92,256.40 318.32,254.32 320.76,252.28 323.25,250.26 325.79,248.28 328.38,246.32 331.01,244.40 333.69,242.51 336.42,240.64 339.20,238.81 342.02,237.01 344.89,235.24 347.81,233.51 350.78,231.80 353.79,230.12 356.85,228.48 359.96,226.86 363.12,225.28 366.32,223.72 369.57,222.19 372.87,220.69 376.21,219.23 379.61,217.78 383.05,216.37 386.54,214.98 390.07,213.63 393.66,212.29 397.29,210.99 400.96,209.71 404.69,208.45 408.46,207.22 412.28,206.02 416.15,204.83 420.06,203.67 424.03,202.54 428.04,201.43 432.10,200.33 436.20,199.27 440.35,198.22 444.55,197.19 448.80,196.18"/>
<polyline points="256.60,346.50 256.62,346.45 256.69,346.32 256.81,346.09 256.98,345.77 257.19,345.36 257.45,344.86 257.76,344.27 258.12,343.60 258.52,342.85 258.97,342.01 259.47,341.09 260.02,340.09 260.61,339.02 261.25,337.87 261.94,336.65 262.67,335.37 263.46,334.02 264.29,332.60 265.17,331.13 266.09,329.61 267.06,328.03 268.08,326.39 269.15,324.72 270.27,323.00 271.43,321.24 272.64,319.44 273.90,317.61 275.20,315.75 276.56,313.86 277.96,311.94 279.40,310.00 280.90,308.04 282.44,306.07 284.03,304.08 285.67,302.08 287.35,300.07 289.08,298.06 290.86,296.04 292.69,294.01 294.57,291.99 296.49,289.97 298.46,287.95 300.47,285.94 302.54,283.93 304.65,281.94 306.81,279.95 309.02,277.97 311.27,276.01 313.57,274.06 315.92,272.12 318.32,270.20 320.76,268.30 323.25,266.41 325.79,264.54 328.38,262.69 331.01,260.86 333.69,259.06 336.42,257.27 339.20,255.50 342.02,253.75 344.89,252.03 347.81,250.33 350.78,248.65 353.79,246.99 356.85,245.36 359.96,243.74 363.12,242.16 366.32,240.59 369.57,239.05 372.87,237.53 376.21,236.03 379.61,234.56 383.05,233.11 386.54,231.68 390.07,230.27 393.66,228.89 397.29,227.52 400.96,226.18 404.69,224.87 408.46,223.57 412.28,222.29 416.15,221.04 420.06,219.81 424.03,218.59 428.04,217.40 432.10,216.23 436.20,215.08 440.35,213.94 444.55,212.83 448.80,211.74"/>
<polyline points="256.60,346.50 256.62,346.46 256.69,346.36 256.81,346.18 256.98,345.93 257.19,345.61 257.45,345.21 257.76,344.75 258.12,344.23 258.52,343.63 258.97,342.97 259.47,342.24 260.02,341.45 260.61,340.60 261.25,339.69 261.94,338.72 262.67,337.69 263.46,336.61 264.29,335.47 265.17,334.29 266.09,333.05 267.06,331.77 268.08,330.44 269.15,329.07 270.27,327.67 271.43,326.22 272.64,324.74 273.90,323.22 275.20,321.67 276.56,320.09 277.96,318.49 279.40,316.86 280.90,315.21 282.44,313.53 284.03,311.84 285.67,310.13 287.35,308.41 289.08,306.67 290.86,304.92 292.69,303.16 294.57,301.40 296.49,299.63 298.46,297.85 300.47,296.07 302.54,294.29 304.65,292.51 306.81,290.73 309.02,288.95 311.27,287.18 313.57,285.41 315.92,283.65 318.32,281.89 320.76,280.15 323.25,278.41 325.79,276.68 328.38,274.96 331.01,273.26 333.69,271.56 336.42,269.88 339.20,268.21 342.02,266.56 344.89,264.92 347.81,263.29 350.78,261.69 353.79,260.09 356.85,258.51 359.96,256.95 363.12,255.41 366.32,253.88 369.57,252.37 372.87,250.88 376.21,249.41 379.61,247.95 383.05,246.51 386.54,245.09 390.07,243.68 393.66,242.30 397.29,240.93 400.96,239.58 404.69,238.25 408.46,236.93 412.28,235.64 416.15,234.36 420.06,233.10 424.03,231.86 428.04,230.63 432.10,229.42 436.20,228.23 440.35,227.06 444.55,225.90 448.80,224.76"/>
</g>
<g fill="#000" stroke="none">
<circle cx="274.07" cy="303.91" r="2.25"/>
<circle cx="295.04" cy="266.34" r="2.25"/>
<circle cx="326.49" cy="235.28" r="2.25"/>
<circle cx="431.33" cy="214.24" r="2.25"/>
<path d="M274.07 312.99L276.97 317.89L271.17 317.89Z"/>
<path d="M295.04 278.92L297.94 283.82L292.14 283.82Z"/>
<path d="M326.49 254.87L329.39 259.77L323.59 259.77Z"/>
<path d="M431.33 223.81L434.23 228.71L428.43 228.71Z"/>
<path d="M274.07 326.20L276.97 321.30L271.17 321.30Z"/>
<path d="M295.04 304.66L297.94 299.76L292.14 299.76Z"/>
<path d="M326.49 268.09L329.39 263.19L323.59 263.19Z"/>
<path d="M431.33 238.23L434.23 233.33L428.43 233.33Z"/>
</g>
</g>
<g font-family='"Liberation Sans", sans-serif' font-size="8.6" fill="#1a1a1a">
<clipPath id="cp5"><rect x="483.8" y="193.4" width="194.29999999999998" height="153.79999999999998"/></clipPath>
<line x1="483.80" y1="194.40" x2="677.50" y2="194.40" stroke="#b4b4b4" stroke-width="1" stroke-linecap="square"/>
<line x1="677.50" y1="194.40" x2="677.50" y2="346.70" stroke="#a8a8a8" stroke-width="1" stroke-linecap="square"/>
<line x1="483.80" y1="346.70" x2="677.50" y2="346.70" stroke="#b0b0b0" stroke-width="1" stroke-linecap="square"/>
<line x1="483.80" y1="194.40" x2="483.80" y2="346.70" stroke="#a4a4a4" stroke-width="1.7" stroke-linecap="square"/>
<text x="483.80" y="356.20" text-anchor="middle">0</text>
<text x="529.92" y="356.20" text-anchor="middle">10</text>
<text x="576.04" y="356.20" text-anchor="middle">20</text>
<text x="622.16" y="356.20" text-anchor="middle">30</text>
<text x="668.28" y="356.20" text-anchor="middle">40</text>
<text x="482.70" y="350.18" text-anchor="end">0</text>
<text x="482.70" y="324.80" text-anchor="end">0.1</text>
<text x="482.70" y="299.41" text-anchor="end">0.2</text>
<text x="482.70" y="274.03" text-anchor="end">0.3</text>
<text x="482.70" y="248.65" text-anchor="end">0.4</text>
<text x="482.70" y="223.26" text-anchor="end">0.5</text>
<text x="482.70" y="197.88" text-anchor="end">0.6</text>
<path d="M529.92 346.70v-2.0M529.92 194.40v2.0M576.04 346.70v-2.0M576.04 194.40v2.0M622.16 346.70v-2.0M622.16 194.40v2.0M668.28 346.70v-2.0M668.28 194.40v2.0M483.80 321.32h2.0M677.50 321.32h-2.0M483.80 295.93h2.0M677.50 295.93h-2.0M483.80 270.55h2.0M677.50 270.55h-2.0M483.80 245.17h2.0M677.50 245.17h-2.0M483.80 219.78h2.0M677.50 219.78h-2.0" stroke="#9a9a9a" stroke-width="0.8" fill="none"/>
<text x="580.65" y="364.70" text-anchor="middle" font-size="8.7">[CoASH] (μM)</text>
<text transform="translate(466.80,270.55) rotate(-90)" text-anchor="middle" font-size="9.4">v</text>
<text x="494.10" y="204.80" font-size="9.3">F</text>
<g clip-path="url(#cp5)" fill="none" stroke="#000" stroke-width="1.15" stroke-linejoin="round">
<polyline points="483.80,346.70 483.82,345.88 483.89,343.47 484.01,339.66 484.17,334.71 484.38,328.93 484.64,322.62 484.94,316.07 485.29,309.49 485.69,303.07 486.13,296.93 486.62,291.14 487.16,285.75 487.75,280.77 488.38,276.20 489.05,272.03 489.78,268.22 490.55,264.76 491.36,261.62 492.23,258.77 493.14,256.17 494.09,253.82 495.10,251.67 496.15,249.72 497.25,247.94 498.39,246.31 499.58,244.82 500.82,243.46 502.10,242.21 503.43,241.06 504.81,240.00 506.23,239.02 507.70,238.12 509.22,237.28 510.79,236.51 512.40,235.79 514.05,235.12 515.76,234.50 517.51,233.92 519.31,233.38 521.15,232.88 523.04,232.40 524.98,231.96 526.96,231.55 528.99,231.16 531.07,230.79 533.20,230.44 535.37,230.12 537.59,229.81 539.85,229.52 542.16,229.25 544.52,228.99 546.92,228.74 549.37,228.51 551.87,228.29 554.42,228.08 557.01,227.88 559.65,227.69 562.33,227.51 565.06,227.34 567.84,227.18 570.66,227.02 573.54,226.88 576.45,226.73 579.42,226.60 582.43,226.47 585.49,226.34 588.59,226.22 591.74,226.11 594.94,226.00 598.19,225.90 601.48,225.80 604.82,225.70 608.20,225.61 611.63,225.52 615.11,225.43 618.64,225.35 622.21,225.27 625.83,225.19 629.49,225.12 633.20,225.05 636.96,224.98 640.77,224.91 644.62,224.85 648.52,224.79 652.46,224.73 656.45,224.67 660.49,224.62 664.58,224.56 668.71,224.51 672.89,224.46"/>
<polyline points="483.80,346.70 483.82,346.50 483.89,345.90 484.01,344.92 484.17,343.57 484.38,341.88 484.64,339.88 484.94,337.59 485.29,335.06 485.69,332.33 486.13,329.42 486.62,326.39 487.16,323.25 487.75,320.05 488.38,316.81 489.05,313.56 489.78,310.32 490.55,307.12 491.36,303.96 492.23,300.87 493.14,297.85 494.09,294.92 495.10,292.08 496.15,289.33 497.25,286.68 498.39,284.13 499.58,281.68 500.82,279.33 502.10,277.08 503.43,274.93 504.81,272.86 506.23,270.90 507.70,269.01 509.22,267.22 510.79,265.51 512.40,263.87 514.05,262.31 515.76,260.82 517.51,259.41 519.31,258.05 521.15,256.76 523.04,255.53 524.98,254.35 526.96,253.23 528.99,252.16 531.07,251.14 533.20,250.16 535.37,249.23 537.59,248.33 539.85,247.48 542.16,246.66 544.52,245.88 546.92,245.13 549.37,244.42 551.87,243.73 554.42,243.07 557.01,242.44 559.65,241.84 562.33,241.26 565.06,240.70 567.84,240.16 570.66,239.65 573.54,239.16 576.45,238.68 579.42,238.22 582.43,237.79 585.49,237.36 588.59,236.96 591.74,236.56 594.94,236.19 598.19,235.82 601.48,235.47 604.82,235.13 608.20,234.80 611.63,234.49 615.11,234.18 618.64,233.89 622.21,233.61 625.83,233.33 629.49,233.07 633.20,232.81 636.96,232.56 640.77,232.32 644.62,232.09 648.52,231.86 652.46,231.64 656.45,231.43 660.49,231.22 664.58,231.03 668.71,230.83 672.89,230.65"/>
<polyline points="483.80,346.70 483.82,346.59 483.89,346.26 484.01,345.71 484.17,344.94 484.38,343.98 484.64,342.82 484.94,341.47 485.29,339.96 485.69,338.29 486.13,336.47 486.62,334.53 487.16,332.48 487.75,330.34 488.38,328.11 489.05,325.82 489.78,323.47 490.55,321.09 491.36,318.68 492.23,316.26 493.14,313.83 494.09,311.41 495.10,309.01 496.15,306.62 497.25,304.27 498.39,301.94 499.58,299.66 500.82,297.42 502.10,295.23 503.43,293.09 504.81,291.00 506.23,288.96 507.70,286.98 509.22,285.05 510.79,283.18 512.40,281.37 514.05,279.61 515.76,277.90 517.51,276.25 519.31,274.65 521.15,273.10 523.04,271.61 524.98,270.16 526.96,268.77 528.99,267.42 531.07,266.12 533.20,264.86 535.37,263.65 537.59,262.47 539.85,261.34 542.16,260.25 544.52,259.19 546.92,258.17 549.37,257.19 551.87,256.24 554.42,255.32 557.01,254.44 559.65,253.58 562.33,252.75 565.06,251.96 567.84,251.18 570.66,250.44 573.54,249.72 576.45,249.02 579.42,248.35 582.43,247.69 585.49,247.06 588.59,246.45 591.74,245.86 594.94,245.29 598.19,244.74 601.48,244.20 604.82,243.68 608.20,243.18 611.63,242.69 615.11,242.22 618.64,241.76 622.21,241.32 625.83,240.89 629.49,240.47 633.20,240.07 636.96,239.68 640.77,239.29 644.62,238.92 648.52,238.56 652.46,238.21 656.45,237.88 660.49,237.55 664.58,237.23 668.71,236.91 672.89,236.61"/>
</g>
<g fill="#000" stroke="none">
<circle cx="488.41" cy="290.35" r="2.52"/>
<circle cx="490.72" cy="270.55" r="2.52"/>
<circle cx="497.64" cy="254.81" r="2.52"/>
<circle cx="506.86" cy="245.17" r="2.52"/>
<circle cx="529.92" cy="224.35" r="2.52"/>
<circle cx="668.28" cy="215.98" r="2.52"/>
<path d="M488.41 304.61L491.66 310.10L485.16 310.10Z"/>
<path d="M490.72 295.73L493.97 301.22L487.47 301.22Z"/>
<path d="M497.64 277.96L500.88 283.45L494.39 283.45Z"/>
<path d="M506.86 258.92L510.11 264.41L503.61 264.41Z"/>
<path d="M529.92 242.42L533.17 247.91L526.67 247.91Z"/>
<path d="M668.28 217.04L671.52 222.53L665.03 222.53Z"/>
<path d="M488.41 329.94L491.66 324.45L485.16 324.45Z"/>
<path d="M490.72 323.59L493.97 318.10L487.47 318.10Z"/>
<path d="M497.64 313.44L500.88 307.95L494.39 307.95Z"/>
<path d="M506.86 293.13L510.11 287.64L503.61 287.64Z"/>
<path d="M529.92 276.63L533.17 271.14L526.67 271.14Z"/>
<path d="M668.28 246.17L671.52 240.68L665.03 240.68Z"/>
</g>
</g>
</svg>
</body></html>
